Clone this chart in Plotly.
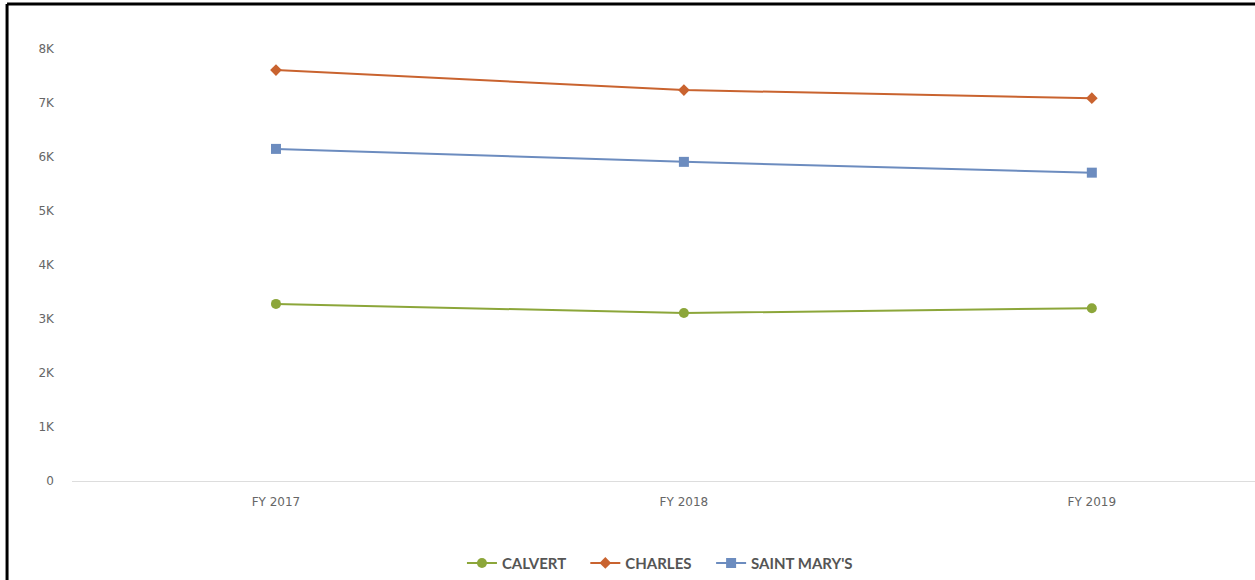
import plotly.graph_objects as go

categories = ["FY 2017", "FY 2018", "FY 2019"]
calvert = [3280, 3110, 3200]
charles = [7610, 7240, 7090]
saint_marys = [6150, 5910, 5710]

series = [
    ("CALVERT", calvert, "#8CA63A", "circle", 10),
    ("CHARLES", charles, "#C9632F", "diamond", 9),
    ("SAINT MARY'S", saint_marys, "#6C8CBF", "square", 10),
]

fig = go.Figure()
for i, (name, vals, color, sym, size) in enumerate(series):
    pad = "\u00a0" * 4 if i < len(series) - 1 else ""
    fig.add_trace(go.Scatter(
        x=categories, y=vals, name=name + pad, mode="lines+markers",
        line=dict(color=color, width=2),
        marker=dict(symbol=sym, size=size, color=color),
    ))

fig.update_layout(
    width=1255, height=580,
    margin=dict(l=72, r=0, t=22, b=99),
    paper_bgcolor="white", plot_bgcolor="white",
    font=dict(family="DejaVu Sans", size=12, color="#666"),
    showlegend=True,
    legend=dict(orientation="h", x=0.497, y=-0.179, xanchor="center", yanchor="middle",
                font=dict(family="Lato", size=15, color="#555", weight="bold"),
                itemwidth=30, tracegroupgap=0),
    xaxis=dict(type="category", range=[-0.5, 2.4], showgrid=False, showline=True,
               linecolor="#dddddd", linewidth=1, ticks="", ticklabelstandoff=10,
               tickfont=dict(size=12, color="#666"), zeroline=False, fixedrange=True),
    yaxis=dict(range=[0, 8500], tickvals=[0, 1000, 2000, 3000, 4000, 5000, 6000, 7000, 8000],
               ticktext=["0", "1K", "2K", "3K", "4K", "5K", "6K", "7K", "8K"],
               showgrid=False, zeroline=False, showline=False, ticks="",
               ticklabelstandoff=17, tickfont=dict(size=12, color="#666")),
    shapes=[
        dict(type="line", xref="paper", yref="paper", x0=-0.0549, x1=1.05, y0=1.039, y1=1.039,
             line=dict(color="black", width=3)),
        dict(type="line", xref="paper", yref="paper", x0=-0.0549, x1=-0.0549, y0=-0.3, y1=1.039,
             line=dict(color="black", width=3)),
    ],
)

fig.write_html("out.html")
